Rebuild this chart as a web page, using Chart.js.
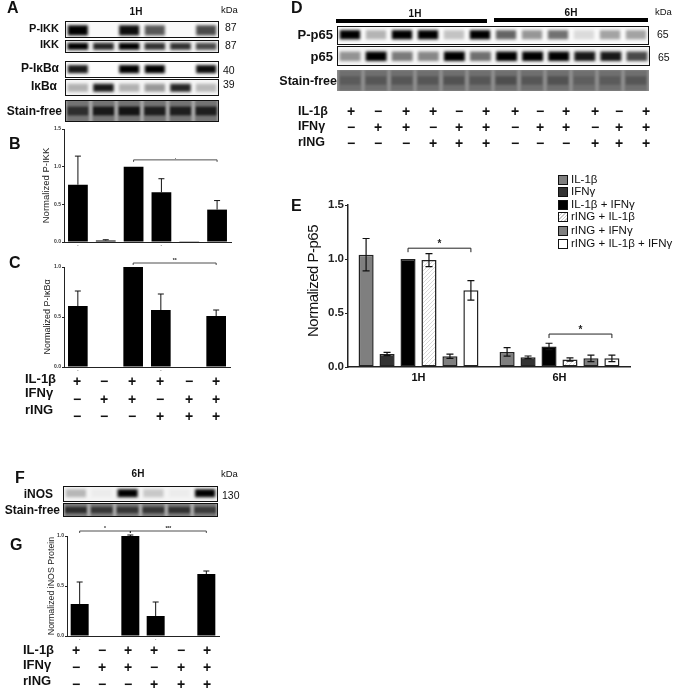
<!DOCTYPE html>
<html>
<head>
<meta charset="utf-8">
<style>
html, body { margin: 0; padding: 0; background: #fff; }
#fig { position: relative; width: 675px; height: 689px; overflow: hidden; filter: blur(0.4px); font-family: "Liberation Sans", Arial, sans-serif; color: #111; }
#fig canvas { position: absolute; }
.t { position: absolute; white-space: nowrap; line-height: 1; }
.strip { position: absolute; overflow: hidden; }
.box { position: absolute; box-sizing: border-box; border: 1.5px solid #111; }
</style>
<script src="https://cdn.jsdelivr.net/npm/chart.js@4"></script>
</head>
<body>
<div id="fig"></div>
<script>
// ---- bar values ----
var treatments = ["IL-1β", "IFNγ", "IL-1β + IFNγ", "rING + IL-1β", "rING + IFNγ", "rING + IL-1β + IFNγ"];
var pikkVals = [0.76, 0.02, 1.0, 0.66, 0.01, 0.43];
var pikkErr = [0.38, 0.01, 0, 0.18, 0, 0.12];
var pikbaVals = [0.61, 0, 1.0, 0.57, 0, 0.51];
var pikbaErr = [0.15, 0, 0, 0.16, 0, 0.06];
var inosVals = [0.32, 0, 1.0, 0.2, 0, 0.62];
var inosErr = [0.22, 0, 0.01, 0.14, 0, 0.03];
var axisMarks = ["-", "", "", "-", "", ""];

var hours = ["1H", "6H"];
var p65Vals = [[1.04, 0.14], [0.12, 0.09], [1.0, 0.19], [0.99, 0.07], [0.10, 0.08], [0.71, 0.08]];
var p65Err = [[0.15, 0.04], [0.015, 0.012], [0, 0.03], [0.06, 0.015], [0.02, 0.03], [0.09, 0.03]];
var p65Fill = ["#7f7f7f", "#333333", "#000000", "hatch", "#7f7f7f", "#ffffff"];

// ---- blot band darkness per lane ----
var bandPIKK = [1, 0, 0.95, 0.65, 0, 0.7];
var bandIKK = [1, 0.85, 1, 0.8, 0.8, 0.7];
var bandPIkB = [0.9, 0, 1, 1, 0, 0.95];
var bandIkB = [0.28, 0.9, 0.28, 0.38, 0.85, 0.25];
var bandStainA = [0.7, 0.9, 0.95, 0.85, 0.85, 0.85];
var bandPp65 = [1, 0.28, 1, 1, 0.22, 1, 0.6, 0.4, 0.55, 0.12, 0.35, 0.35];
var bandp65 = [0.4, 1, 0.5, 0.45, 1, 0.55, 1, 1, 1, 0.9, 0.9, 0.7];
var bandStainD = [0.25, 0.3, 0.3, 0.3, 0.35, 0.3, 0.4, 0.3, 0.35, 0.2, 0.25, 0.3];
var bandiNOS = [0.25, 0.03, 1, 0.18, 0.03, 1];
var bandStainF = [0.75, 0.65, 0.65, 0.65, 0.7, 0.6];

// ---- treatment rows ----
var il1bRow = ["+", "−", "+", "+", "−", "+"];
var ifngRow = ["−", "+", "+", "−", "+", "+"];
var ringRow = ["−", "−", "−", "+", "+", "+"];
var il1bRowD = il1bRow.concat(il1bRow);
var ifngRowD = ifngRow.concat(ifngRow);
var ringRowD = ringRow.concat(ringRow);

var fig = document.getElementById("fig");
var fontName = '"Liberation Sans", Arial, sans-serif';

function text(str, x, y, size, bold, align) {
  var el = document.createElement("div");
  el.className = "t";
  el.textContent = str;
  el.style.left = x + "px";
  el.style.top = y + "px";
  el.style.fontSize = size + "px";
  if (bold) el.style.fontWeight = "bold";
  var dx = align === "r" ? "-100%" : align === "c" ? "-50%" : "0";
  el.style.transform = "translate(" + dx + ",-50%)";
  fig.appendChild(el);
  return el;
}

function canvasAt(parent, l, t, w, h) {
  var c = document.createElement("canvas");
  c.width = w;
  c.height = h;
  c.style.left = l + "px";
  c.style.top = t + "px";
  c.style.width = w + "px";
  c.style.height = h + "px";
  parent.appendChild(c);
  return c;
}

function errorBars(both, cap, lw) {
  return {
    id: "errorBars",
    afterDatasetsDraw: function (chart) {
      var g = chart.ctx, ys = chart.scales.y;
      g.save();
      g.strokeStyle = "#111";
      g.lineWidth = lw;
      chart.data.datasets.forEach(function (ds, i) {
        chart.getDatasetMeta(i).data.forEach(function (bar, j) {
          var e = ds.err[j];
          if (!e) return;
          var hi = ys.getPixelForValue(ds.data[j] + e);
          var lo = ys.getPixelForValue(both ? ds.data[j] - e : ds.data[j]);
          g.beginPath();
          g.moveTo(bar.x, lo); g.lineTo(bar.x, hi);
          g.moveTo(bar.x - cap, hi); g.lineTo(bar.x + cap, hi);
          if (both) { g.moveTo(bar.x - cap, lo); g.lineTo(bar.x + cap, lo); }
          g.stroke();
        });
      });
      g.restore();
    }
  };
}

// brackets: {ds1, i1, ds2, i2, value, label}
function brackets(list, drop, lw, size) {
  return {
    id: "brackets",
    afterDraw: function (chart) {
      var g = chart.ctx, ys = chart.scales.y;
      g.save();
      g.strokeStyle = "#222";
      g.fillStyle = "#222";
      g.lineWidth = lw;
      g.textAlign = "center";
      g.font = "bold " + size + "px " + fontName;
      list.forEach(function (b) {
        var x1 = chart.getDatasetMeta(b.ds1).data[b.i1].x;
        var x2 = chart.getDatasetMeta(b.ds2).data[b.i2].x;
        var y = ys.getPixelForValue(b.value);
        g.beginPath();
        g.moveTo(x1, y + drop); g.lineTo(x1, y); g.lineTo(x2, y); g.lineTo(x2, y + drop);
        g.stroke();
        g.fillText(b.label, (x1 + x2) / 2, y - 1);
      });
      g.restore();
    }
  };
}

function smallBars(o) {
  var left = o.l - o.axisW, pad = 14;
  var c = canvasAt(fig, left, o.t - pad, o.r - left + 2, o.b - o.t + pad + 8);
  new Chart(c, {
    type: "bar",
    data: {
      labels: axisMarks,
      datasets: [{ data: o.vals, err: o.errs, backgroundColor: "#000", barPercentage: 0.71, categoryPercentage: 1 }]
    },
    options: {
      responsive: false,
      animation: false,
      layout: { padding: { top: pad, right: 2, left: 0, bottom: 0 } },
      plugins: { legend: { display: false }, tooltip: { enabled: false } },
      scales: {
        x: {
          grid: { drawOnChartArea: false, drawTicks: false },
          border: { color: "#222", width: 1 },
          ticks: { font: { size: 5, family: fontName }, color: "#666", padding: 1, autoSkip: false, maxRotation: 0 },
          afterFit: function (s) { s.height = 8; }
        },
        y: {
          min: 0, max: o.max,
          grid: { drawOnChartArea: false, tickLength: 2, color: "#222" },
          border: { color: "#222", width: 1 },
          ticks: { stepSize: 0.5, font: { size: 5, weight: "bold", family: fontName }, color: "#333", padding: 1, callback: function (v) { return v.toFixed(1); } },
          title: { display: true, text: o.title, font: { size: o.titleSize, family: fontName }, color: "#222", padding: 0 },
          afterFit: function (s) { s.width = o.axisW; }
        }
      }
    },
    plugins: [errorBars(false, 3, 1), brackets(o.brackets, 2, 0.8, 5)]
  });
}

// a strip of gel: lanes on a category axis, band darkness per lane
function blot(o) {
  var wrap = document.createElement("div");
  wrap.className = "strip";
  wrap.style.cssText = "left:" + o.l + "px;top:" + o.t + "px;width:" + o.w + "px;height:" + o.h + "px;background:" + o.bg;
  fig.appendChild(wrap);
  var c = canvasAt(wrap, 0, 0, o.w, o.h);
  c.style.filter = "blur(" + (o.blur || 1.8) + "px)";
  var sets = [{
    data: o.bands.map(function () { return [o.lo, o.hi]; }),
    backgroundColor: o.bands.map(function (v) { return "rgba(" + o.ink + "," + v + ")"; }),
    barPercentage: o.bandW, categoryPercentage: 1, order: 1
  }];
  if (o.laneColor) {
    sets.push({
      data: o.bands.map(function () { return [0, 1]; }),
      backgroundColor: o.laneColor,
      barPercentage: 0.86, categoryPercentage: 1, order: 2
    });
  }
  new Chart(c, {
    type: "bar",
    data: { labels: o.bands.map(function (v, i) { return i + 1; }), datasets: sets },
    options: {
      responsive: false,
      animation: false,
      plugins: { legend: { display: false }, tooltip: { enabled: false } },
      datasets: { bar: { grouped: false, borderSkipped: false } },
      scales: { x: { display: false }, y: { display: false, min: 0, max: 1 } }
    }
  });
  if (o.border) {
    var b = document.createElement("div");
    b.className = "box";
    b.style.cssText = "left:" + o.l + "px;top:" + o.t + "px;width:" + o.w + "px;height:" + o.h + "px";
    fig.appendChild(b);
  }
}

function signRow(row, xs, y) {
  row.forEach(function (s, i) { text(s, xs[i], y, 14, true, "c"); });
}

function hatch() {
  var p = document.createElement("canvas");
  p.width = 4; p.height = 4;
  var g = p.getContext("2d");
  g.fillStyle = "#fff";
  g.fillRect(0, 0, 4, 4);
  g.strokeStyle = "#cfcfcf";
  g.lineWidth = 0.8;
  g.beginPath();
  g.moveTo(0, 4); g.lineTo(4, 0);
  g.stroke();
  return g.createPattern(p, "repeat");
}

// ---- panel A ----
text("A", 7, 8, 16, true);
text("1H", 136, 12, 10, true, "c");
text("kDa", 221, 10, 9.5);
text("P-IKK", 59, 28, 11, true, "r");
text("IKK", 59, 44, 11, true, "r");
text("P-IκBα", 59, 68, 12, true, "r");
text("IκBα", 57, 86, 12, true, "r");
text("Stain-free", 62, 111, 12, true, "r");
text("87", 225, 27, 10.5);
text("87", 225, 45, 10.5);
text("40", 223, 70, 10.5);
text("39", 223, 84, 10.5);
blot({ l: 65, t: 21, w: 154, h: 17, bands: bandPIKK, lo: 0.15, hi: 0.75, bandW: 0.78, ink: "0,0,0", bg: "#f9f9f9", border: true });
blot({ l: 65, t: 40, w: 154, h: 13, bands: bandIKK, lo: 0.25, hi: 0.78, bandW: 0.8, ink: "0,0,0", bg: "#f2f2f2", border: true });
blot({ l: 65, t: 61, w: 154, h: 17, bands: bandPIkB, lo: 0.28, hi: 0.76, bandW: 0.78, ink: "0,0,0", bg: "#fcfcfc", border: true });
blot({ l: 65, t: 79, w: 154, h: 17, bands: bandIkB, lo: 0.25, hi: 0.72, bandW: 0.8, ink: "0,0,0", bg: "#f6f6f6", border: true });
blot({ l: 65, t: 100, w: 154, h: 22, bands: bandStainA, lo: 0.3, hi: 0.7, bandW: 0.82, ink: "15,15,15", bg: "#a8a8a8", laneColor: "#737373", blur: 1.2, border: true });

// ---- panel B ----
text("B", 9, 144, 16, true);
smallBars({ l: 63.5, r: 231, t: 129, b: 242, axisW: 23, max: 1.5, vals: pikkVals, errs: pikkErr, title: "Normalized P-IKK", titleSize: 9.5,
  brackets: [{ ds1: 0, i1: 2, ds2: 0, i2: 5, value: 1.09, label: "." }] });

// ---- panel C ----
text("C", 9, 263, 16, true);
smallBars({ l: 63.5, r: 229.5, t: 267, b: 367, axisW: 22, max: 1, vals: pikbaVals, errs: pikbaErr, title: "Normalized P-IκBα", titleSize: 9,
  brackets: [{ ds1: 0, i1: 2, ds2: 0, i2: 5, value: 1.04, label: "**" }] });

var rowXsC = [77, 104, 132, 160, 189, 216];
text("IL-1β", 25, 378, 13, true);
text("IFNγ", 25, 392, 13, true);
text("rING", 25, 409, 13, true);
signRow(il1bRow, rowXsC, 381);
signRow(ifngRow, rowXsC, 399);
signRow(ringRow, rowXsC, 416);

// ---- panel D ----
text("D", 291, 8, 16, true);
text("1H", 415, 14, 10, true, "c");
text("6H", 571, 13, 10, true, "c");
text("kDa", 655, 12, 9.5);
text("P-p65", 333, 34, 13, true, "r");
text("p65", 333, 56, 13, true, "r");
text("Stain-free", 337, 81, 12.5, true, "r");
text("65", 657, 34, 10.5);
text("65", 658, 57, 10.5);
blot({ l: 336, t: 19, w: 151, h: 4, bands: [1], lo: 0, hi: 1, bandW: 1, ink: "0,0,0", bg: "#000", blur: 0.1 });
blot({ l: 494, t: 18, w: 154, h: 4, bands: [1], lo: 0, hi: 1, bandW: 1, ink: "0,0,0", bg: "#000", blur: 0.1 });
blot({ l: 337, t: 26, w: 312, h: 19, bands: bandPp65, lo: 0.3, hi: 0.78, bandW: 0.78, ink: "0,0,0", bg: "#fafafa", border: true });
blot({ l: 337, t: 46, w: 313, h: 20, bands: bandp65, lo: 0.25, hi: 0.72, bandW: 0.8, ink: "0,0,0", bg: "#f6f6f6", border: true });
blot({ l: 337, t: 70, w: 312, h: 21, bands: bandStainD, lo: 0.3, hi: 0.7, bandW: 0.8, ink: "30,30,30", bg: "#8f8f8f", laneColor: "#6f6f6f", blur: 1.2 });

var rowXsD = [351, 378, 406, 433, 459, 486, 515, 540, 566, 595, 619, 646];
text("IL-1β", 298, 111, 12.5, true);
text("IFNγ", 298, 126, 12.5, true);
text("rING", 298, 142, 12.5, true);
signRow(il1bRowD, rowXsD, 111);
signRow(ifngRowD, rowXsD, 127);
signRow(ringRowD, rowXsD, 143);

// ---- panel E ----
text("E", 291, 206, 16, true);
var yTitleE = text("Normalized P-p65", 312, 281, 15, false, "c");
yTitleE.style.transform = "translate(-50%,-50%) rotate(-90deg)";
yTitleE.style.letterSpacing = "-0.5px";
var patt = hatch();
var cE = canvasAt(fig, 316, 190, 318, 196);
new Chart(cE, {
  type: "bar",
  data: {
    labels: hours,
    datasets: treatments.map(function (name, i) {
      return {
        label: name,
        data: p65Vals[i],
        err: p65Err[i],
        backgroundColor: p65Fill[i] === "hatch" ? patt : p65Fill[i],
        borderColor: "#222",
        borderWidth: 1.5,
        borderSkipped: false,
        barPercentage: 0.72,
        categoryPercentage: 0.892
      };
    })
  },
  options: {
    responsive: false,
    animation: false,
    layout: { padding: { top: 15, right: 4, left: 0, bottom: 0 } },
    plugins: { legend: { display: false }, tooltip: { enabled: false } },
    scales: {
      x: {
        grid: { drawOnChartArea: false, drawTicks: false },
        border: { color: "#222", width: 1.5 },
        ticks: { font: { size: 11, weight: "bold", family: fontName }, color: "#111", padding: 4, maxRotation: 0 },
        afterFit: function (s) { s.height = 19; }
      },
      y: {
        min: 0, max: 1.5,
        grid: { drawOnChartArea: false, tickLength: 3, color: "#222", lineWidth: 1 },
        border: { color: "#222", width: 1.5 },
        ticks: { stepSize: 0.5, font: { size: 11.5, weight: "bold", family: fontName }, color: "#222", padding: 1, callback: function (v) { return v.toFixed(1); } },
        afterFit: function (s) { s.width = 32; }
      }
    }
  },
  plugins: [errorBars(true, 3.5, 1.2), brackets([
    { ds1: 2, i1: 0, ds2: 5, i2: 0, value: 1.10, label: "*" },
    { ds1: 2, i1: 1, ds2: 5, i2: 1, value: 0.305, label: "*" }
  ], 4, 1, 10)]
});

// legend for E
var legendYs = [180, 192, 205, 217, 231, 244];
treatments.forEach(function (name, i) {
  var s = document.createElement("div");
  s.className = "box";
  s.style.cssText = "left:558px;top:" + (legendYs[i] - 5) + "px;width:10px;height:10px;border-width:1px;background:" +
    (p65Fill[i] === "hatch" ? "repeating-linear-gradient(135deg,#fff 0 1.5px,#ccc 1.5px 2.5px)" : p65Fill[i]);
  fig.appendChild(s);
  text(name, 571, legendYs[i], 11.5);
});

// ---- panel F ----
text("F", 15, 478, 16, true);
text("6H", 138, 474, 10, true, "c");
text("kDa", 221, 474, 9.5);
text("iNOS", 53, 494, 12, true, "r");
text("Stain-free", 60, 510, 12, true, "r");
text("130", 222, 495, 10.5);
blot({ l: 63, t: 486, w: 155, h: 16, bands: bandiNOS, lo: 0.3, hi: 0.8, bandW: 0.78, ink: "0,0,0", bg: "#f4f4f4", border: true });
blot({ l: 63, t: 503, w: 155, h: 14, bands: bandStainF, lo: 0.28, hi: 0.72, bandW: 0.84, ink: "20,20,20", bg: "#aaaaaa", laneColor: "#777777", blur: 1.2, border: true });

// ---- panel G ----
text("G", 10, 545, 16, true);
smallBars({ l: 66.5, r: 218.5, t: 536, b: 636, axisW: 21, max: 1, vals: inosVals, errs: inosErr, title: "Normalized iNOS Protein", titleSize: 8.8,
  brackets: [
    { ds1: 0, i1: 0, ds2: 0, i2: 2, value: 1.05, label: "*" },
    { ds1: 0, i1: 2, ds2: 0, i2: 5, value: 1.05, label: "***" }
  ] });

var rowXsG = [76, 102, 128, 154, 181, 207];
text("IL-1β", 23, 649, 13, true);
text("IFNγ", 23, 664, 13, true);
text("rING", 23, 680, 13, true);
signRow(il1bRow, rowXsG, 650);
signRow(ifngRow, rowXsG, 667);
signRow(ringRow, rowXsG, 684);
</script>
</body>
</html>
